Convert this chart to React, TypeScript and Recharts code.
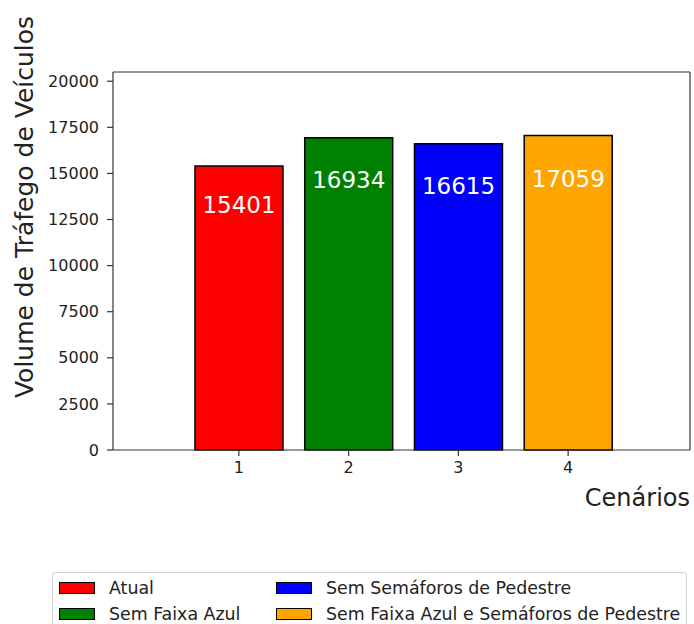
import React from "react";
import { Bar, BarChart, CartesianGrid, Cell, Label, LabelList, XAxis, YAxis } from "recharts";

// Traffic volume per scenario, matplotlib-style bar chart.
const CENARIOS = ["1", "2", "3", "4"];
const VOLUMES = [15401, 16934, 16615, 17059];
const NOMES = [
  "Atual",
  "Sem Faixa Azul",
  "Sem Semáforos de Pedestre",
  "Sem Faixa Azul e Semáforos de Pedestre",
];
const CORES = ["#ff0000", "#008000", "#0000ff", "#ffa500"];
const Y_TICKS = [0, 2500, 5000, 7500, 10000, 12500, 15000, 17500, 20000];
const Y_MAX = 20500;

const FONT = "'DejaVu Sans', sans-serif";
const INK = "#222";
const AXIS = "#333";

const data = CENARIOS.map((c, i) => ({ cenario: c, volume: VOLUMES[i] }));

function BarValue(props: any) {
  const { x, y, width, height, value } = props;
  return (
    <text x={x + width / 2} y={y + height * 0.136} dy="0.36em" textAnchor="middle"
      fill="#fff" fontSize={23} fontFamily={FONT}>
      {value}
    </text>
  );
}

function Legenda() {
  return (
    <div style={{
      position: "absolute", left: 52, top: 572, width: 633, height: 60,
      border: "1px solid #d0d0d0", borderRadius: 3, background: "#fff",
      fontFamily: FONT, fontSize: 17.4, color: INK,
    }}>
      {NOMES.map((n, i) => {
        const col = Math.floor(i / 2);
        const row = i % 2;
        return (
          <div key={n} style={{
            position: "absolute", left: col ? 223 : 6, top: 7 + row * 26, lineHeight: "16px",
            display: "flex", alignItems: "center", height: 16, whiteSpace: "nowrap",
          }}>
            <span style={{
              width: 34, height: 10, background: CORES[i], border: "1px solid #000",
              marginRight: 14, display: "inline-block",
            }} />
            <span>{n}</span>
          </div>
        );
      })}
    </div>
  );
}

export default function App() {
  return (
    <div style={{ position: "absolute", left: 0, top: 0, width: 694, height: 624, background: "#fff" }}>
      <BarChart width={694} height={624} data={data} barCategoryGap="10%"
        margin={{ top: 72, right: 4, left: 0, bottom: 114 }}>
        {/* top and right spines of the matplotlib-style frame */}
        <CartesianGrid stroke={AXIS} strokeWidth={1.2}
          horizontalCoordinatesGenerator={({ offset }: any) => [offset.top]}
          verticalCoordinatesGenerator={({ offset }: any) => [offset.left + offset.width]} />
        <XAxis dataKey="cenario" height={60} padding={{ left: 71, right: 67 }}
          stroke={AXIS} strokeWidth={1.2} tickSize={6} tickMargin={6}
          tick={{ fontSize: 16, fontFamily: FONT, fill: INK }}>
          <Label content={(p: any) => {
            const vb = p.viewBox;
            return (
              <text x={vb.x + vb.width} y={vb.y + 56} textAnchor="end"
                fontSize={24} fontFamily={FONT} fill={INK}>Cenários</text>
            );
          }} />
        </XAxis>
        <YAxis width={113} domain={[0, Y_MAX]} ticks={Y_TICKS} interval={0}
          stroke={AXIS} strokeWidth={1.2} tickSize={6} tickMargin={8}
          tick={{ fontSize: 16, fontFamily: FONT, fill: INK }}>
          <Label content={(p: any) => {
            const vb = p.viewBox;
            const cx = vb.x + 33;
            const cy = vb.y + vb.height / 2 - 54;
            return (
              <text x={cx} y={cy} transform={`rotate(-90, ${cx}, ${cy})`} textAnchor="middle"
                fontSize={25} fontFamily={FONT} fill={INK}>Volume de Tráfego de Veículos</text>
            );
          }} />
        </YAxis>
        <Bar dataKey="volume" stroke="#000" strokeWidth={1.5} isAnimationActive={false}>
          {data.map((d, i) => <Cell key={d.cenario} fill={CORES[i]} />)}
          <LabelList dataKey="volume" content={BarValue} />
        </Bar>
      </BarChart>
      <Legenda />
    </div>
  );
}
